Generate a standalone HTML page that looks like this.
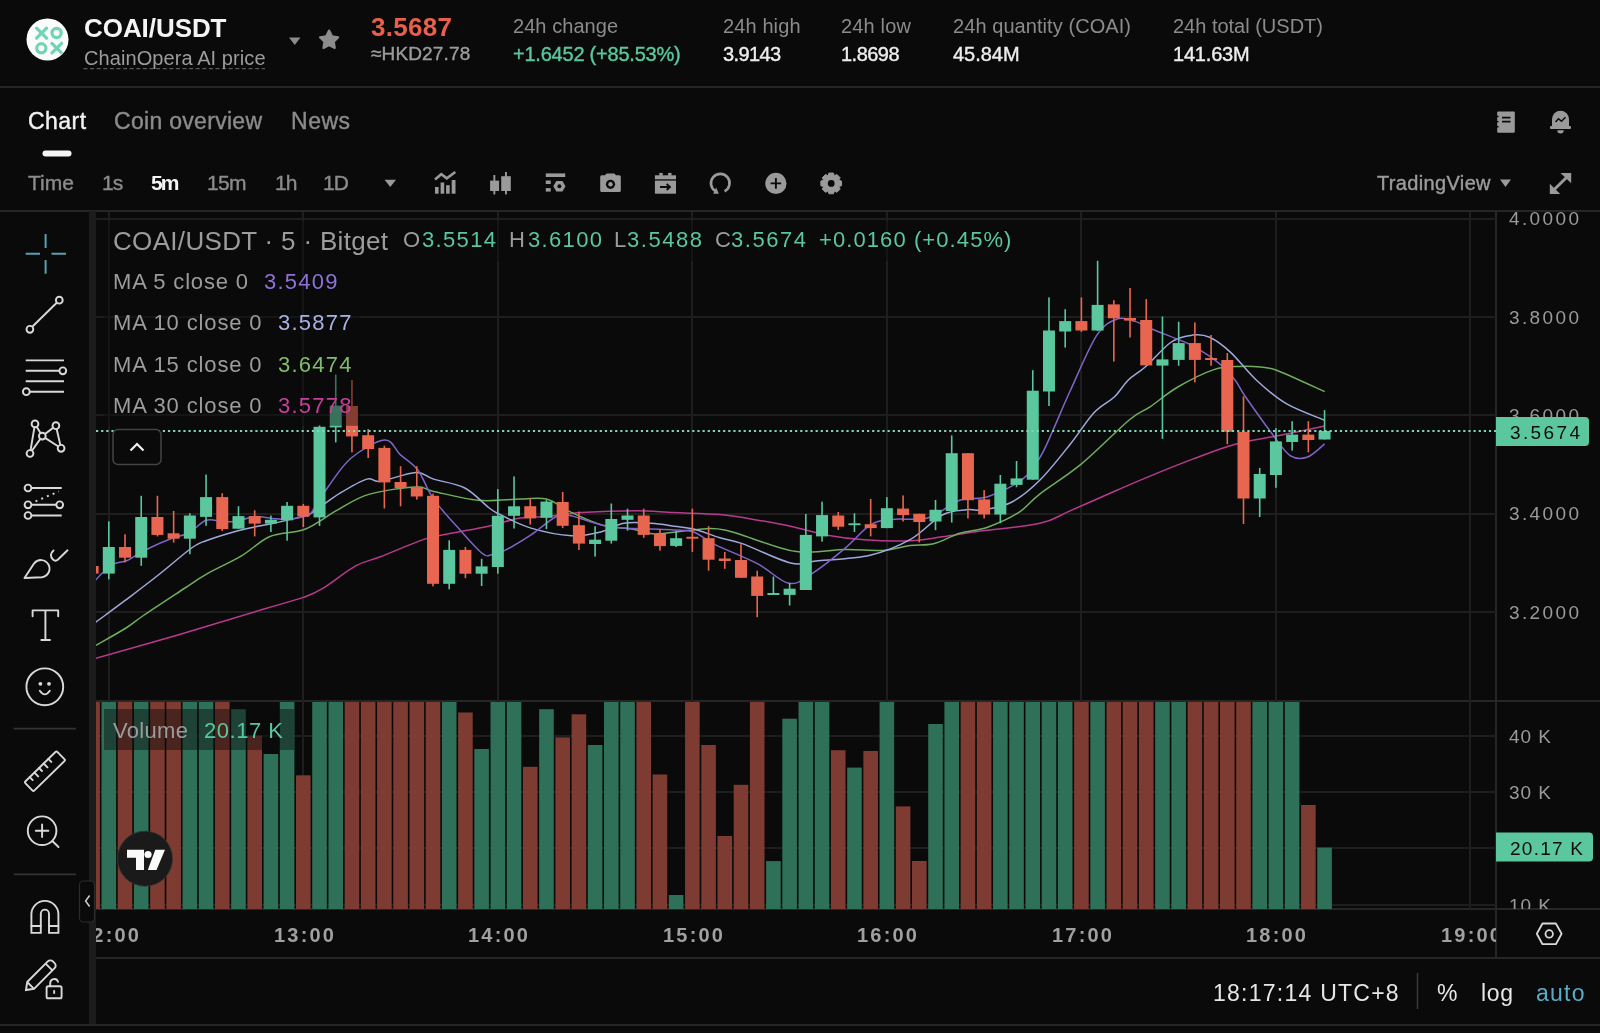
<!DOCTYPE html><html><head><meta charset="utf-8"><style>
html,body{margin:0;padding:0;background:#0a0a0a;width:1600px;height:1033px;overflow:hidden}
body{position:relative;font-family:"Liberation Sans",sans-serif}
.s{position:absolute;left:0;top:0}
.t{position:absolute;white-space:pre;will-change:transform}
</style></head><body>
<svg class="s" width="1600" height="1033" viewBox="0 0 1600 1033"><line x1="0" y1="87" x2="1600" y2="87" stroke="#262626" stroke-width="2"/><line x1="0" y1="211" x2="1600" y2="211" stroke="#262626" stroke-width="2"/><rect x="89.00" y="211.00" width="7.00" height="814.00" fill="#1c1c1c" /><line x1="96" y1="701" x2="1600" y2="701" stroke="#262626" stroke-width="2"/><line x1="96" y1="909" x2="1600" y2="909" stroke="#262626" stroke-width="2"/><line x1="96" y1="958" x2="1600" y2="958" stroke="#262626" stroke-width="2"/><line x1="0" y1="1025" x2="1600" y2="1025" stroke="#262626" stroke-width="2"/><line x1="1496" y1="210" x2="1496" y2="958" stroke="#262626" stroke-width="2"/><defs><clipPath id="cp"><rect x="96" y="212" width="1400" height="489"/></clipPath><clipPath id="cv"><rect x="96" y="702" width="1400" height="207"/></clipPath></defs><line x1="96" y1="219" x2="1496" y2="219" stroke="#1e1e1e" stroke-width="2"/><line x1="96" y1="317" x2="1496" y2="317" stroke="#1e1e1e" stroke-width="2"/><line x1="96" y1="415" x2="1496" y2="415" stroke="#1e1e1e" stroke-width="2"/><line x1="96" y1="514" x2="1496" y2="514" stroke="#1e1e1e" stroke-width="2"/><line x1="96" y1="612" x2="1496" y2="612" stroke="#1e1e1e" stroke-width="2"/><line x1="96" y1="736" x2="1496" y2="736" stroke="#1e1e1e" stroke-width="2"/><line x1="96" y1="792" x2="1496" y2="792" stroke="#1e1e1e" stroke-width="2"/><line x1="96" y1="848" x2="1496" y2="848" stroke="#1e1e1e" stroke-width="2"/><line x1="96" y1="905" x2="1496" y2="905" stroke="#1e1e1e" stroke-width="2"/><line x1="109" y1="212" x2="109" y2="909" stroke="#1e1e1e" stroke-width="2"/><line x1="303" y1="212" x2="303" y2="909" stroke="#1e1e1e" stroke-width="2"/><line x1="498" y1="212" x2="498" y2="909" stroke="#1e1e1e" stroke-width="2"/><line x1="692" y1="212" x2="692" y2="909" stroke="#1e1e1e" stroke-width="2"/><line x1="887" y1="212" x2="887" y2="909" stroke="#1e1e1e" stroke-width="2"/><line x1="1081" y1="212" x2="1081" y2="909" stroke="#1e1e1e" stroke-width="2"/><line x1="1276" y1="212" x2="1276" y2="909" stroke="#1e1e1e" stroke-width="2"/><line x1="1470" y1="212" x2="1470" y2="909" stroke="#1e1e1e" stroke-width="2"/><g clip-path="url(#cv)"><rect x="85.29" y="700.00" width="14.60" height="209.00" fill="#7e3b31" /><rect x="101.50" y="700.00" width="14.60" height="209.00" fill="#2f7059" /><rect x="117.71" y="700.00" width="14.60" height="209.00" fill="#7e3b31" /><rect x="133.92" y="700.00" width="14.60" height="209.00" fill="#2f7059" /><rect x="150.13" y="700.00" width="14.60" height="209.00" fill="#7e3b31" /><rect x="166.34" y="700.00" width="14.60" height="209.00" fill="#7e3b31" /><rect x="182.55" y="700.00" width="14.60" height="209.00" fill="#2f7059" /><rect x="198.76" y="700.00" width="14.60" height="209.00" fill="#2f7059" /><rect x="214.97" y="700.00" width="14.60" height="209.00" fill="#7e3b31" /><rect x="231.18" y="709.20" width="14.60" height="199.80" fill="#2f7059" /><rect x="247.39" y="735.60" width="14.60" height="173.40" fill="#7e3b31" /><rect x="263.60" y="754.00" width="14.60" height="155.00" fill="#2f7059" /><rect x="279.81" y="700.00" width="14.60" height="209.00" fill="#2f7059" /><rect x="296.02" y="775.30" width="14.60" height="133.70" fill="#7e3b31" /><rect x="312.23" y="700.00" width="14.60" height="209.00" fill="#2f7059" /><rect x="328.44" y="700.00" width="14.60" height="209.00" fill="#2f7059" /><rect x="344.65" y="700.00" width="14.60" height="209.00" fill="#7e3b31" /><rect x="360.86" y="700.00" width="14.60" height="209.00" fill="#7e3b31" /><rect x="377.07" y="700.00" width="14.60" height="209.00" fill="#7e3b31" /><rect x="393.28" y="700.00" width="14.60" height="209.00" fill="#7e3b31" /><rect x="409.49" y="700.00" width="14.60" height="209.00" fill="#7e3b31" /><rect x="425.70" y="700.00" width="14.60" height="209.00" fill="#7e3b31" /><rect x="441.91" y="700.00" width="14.60" height="209.00" fill="#2f7059" /><rect x="458.12" y="712.50" width="14.60" height="196.50" fill="#7e3b31" /><rect x="474.33" y="749.00" width="14.60" height="160.00" fill="#2f7059" /><rect x="490.54" y="700.00" width="14.60" height="209.00" fill="#2f7059" /><rect x="506.75" y="700.00" width="14.60" height="209.00" fill="#2f7059" /><rect x="522.96" y="766.80" width="14.60" height="142.20" fill="#7e3b31" /><rect x="539.17" y="709.20" width="14.60" height="199.80" fill="#2f7059" /><rect x="555.38" y="737.40" width="14.60" height="171.60" fill="#7e3b31" /><rect x="571.59" y="714.30" width="14.60" height="194.70" fill="#7e3b31" /><rect x="587.80" y="745.00" width="14.60" height="164.00" fill="#2f7059" /><rect x="604.01" y="700.00" width="14.60" height="209.00" fill="#2f7059" /><rect x="620.22" y="700.00" width="14.60" height="209.00" fill="#2f7059" /><rect x="636.43" y="700.00" width="14.60" height="209.00" fill="#7e3b31" /><rect x="652.64" y="774.50" width="14.60" height="134.50" fill="#7e3b31" /><rect x="668.85" y="895.00" width="14.60" height="14.00" fill="#2f7059" /><rect x="685.06" y="700.00" width="14.60" height="209.00" fill="#7e3b31" /><rect x="701.27" y="745.00" width="14.60" height="164.00" fill="#7e3b31" /><rect x="717.48" y="836.00" width="14.60" height="73.00" fill="#7e3b31" /><rect x="733.69" y="784.80" width="14.60" height="124.20" fill="#7e3b31" /><rect x="749.90" y="700.00" width="14.60" height="209.00" fill="#7e3b31" /><rect x="766.11" y="861.10" width="14.60" height="47.90" fill="#2f7059" /><rect x="782.32" y="718.70" width="14.60" height="190.30" fill="#2f7059" /><rect x="798.53" y="700.00" width="14.60" height="209.00" fill="#2f7059" /><rect x="814.74" y="700.00" width="14.60" height="209.00" fill="#2f7059" /><rect x="830.95" y="750.20" width="14.60" height="158.80" fill="#7e3b31" /><rect x="847.16" y="767.60" width="14.60" height="141.40" fill="#2f7059" /><rect x="863.37" y="751.00" width="14.60" height="158.00" fill="#7e3b31" /><rect x="879.58" y="700.00" width="14.60" height="209.00" fill="#2f7059" /><rect x="895.79" y="806.40" width="14.60" height="102.60" fill="#7e3b31" /><rect x="912.00" y="861.00" width="14.60" height="48.00" fill="#7e3b31" /><rect x="928.21" y="724.00" width="14.60" height="185.00" fill="#2f7059" /><rect x="944.42" y="700.00" width="14.60" height="209.00" fill="#2f7059" /><rect x="960.63" y="700.00" width="14.60" height="209.00" fill="#7e3b31" /><rect x="976.84" y="700.00" width="14.60" height="209.00" fill="#7e3b31" /><rect x="993.05" y="700.00" width="14.60" height="209.00" fill="#2f7059" /><rect x="1009.26" y="700.00" width="14.60" height="209.00" fill="#2f7059" /><rect x="1025.47" y="700.00" width="14.60" height="209.00" fill="#2f7059" /><rect x="1041.68" y="700.00" width="14.60" height="209.00" fill="#2f7059" /><rect x="1057.89" y="700.00" width="14.60" height="209.00" fill="#2f7059" /><rect x="1074.10" y="700.00" width="14.60" height="209.00" fill="#7e3b31" /><rect x="1090.31" y="700.00" width="14.60" height="209.00" fill="#2f7059" /><rect x="1106.52" y="700.00" width="14.60" height="209.00" fill="#7e3b31" /><rect x="1122.73" y="700.00" width="14.60" height="209.00" fill="#7e3b31" /><rect x="1138.94" y="700.00" width="14.60" height="209.00" fill="#7e3b31" /><rect x="1155.15" y="700.00" width="14.60" height="209.00" fill="#2f7059" /><rect x="1171.36" y="700.00" width="14.60" height="209.00" fill="#2f7059" /><rect x="1187.57" y="700.00" width="14.60" height="209.00" fill="#7e3b31" /><rect x="1203.78" y="700.00" width="14.60" height="209.00" fill="#7e3b31" /><rect x="1219.99" y="700.00" width="14.60" height="209.00" fill="#7e3b31" /><rect x="1236.20" y="700.00" width="14.60" height="209.00" fill="#7e3b31" /><rect x="1252.41" y="700.00" width="14.60" height="209.00" fill="#2f7059" /><rect x="1268.62" y="700.00" width="14.60" height="209.00" fill="#2f7059" /><rect x="1284.83" y="700.00" width="14.60" height="209.00" fill="#2f7059" /><rect x="1301.04" y="805.00" width="14.60" height="104.00" fill="#7e3b31" /><rect x="1317.25" y="847.60" width="14.60" height="61.40" fill="#2f7059" /></g><g clip-path="url(#cp)"><path d="M95.8 658.4 C109.3 654.5 149.0 643.4 177.0 635.2 C205.0 627.0 242.9 615.3 264.0 609.0 C285.1 602.7 293.7 600.8 303.4 597.4 C313.1 594.0 313.6 594.0 322.3 588.7 C331.0 583.5 346.0 571.2 355.7 565.9 C365.4 560.6 368.9 561.2 380.3 556.8 C391.7 552.4 412.3 543.3 423.9 539.4 C435.5 535.5 439.1 535.9 450.0 533.6 C460.9 531.4 477.6 528.5 489.3 525.9 C501.0 523.3 510.5 519.7 520.0 518.1 C529.5 516.5 536.3 517.4 546.5 516.5 C556.7 515.6 566.4 513.6 581.3 512.6 C596.1 511.6 620.1 510.7 635.6 510.7 C651.1 510.7 660.2 512.0 674.3 512.6 C688.4 513.2 707.7 513.5 720.0 514.5 C732.3 515.5 736.3 516.4 748.1 518.4 C759.9 520.4 777.8 523.5 790.7 526.2 C803.6 529.0 813.3 532.6 825.6 534.9 C837.9 537.1 850.2 538.7 864.3 539.7 C878.4 540.7 897.0 541.2 910.0 540.7 C923.0 540.2 931.1 538.3 942.3 536.8 C953.5 535.3 960.8 533.9 977.1 531.6 C993.4 529.4 1024.5 526.8 1040.0 523.3 C1055.5 519.8 1057.1 516.4 1070.0 510.9 C1082.9 505.3 1104.1 495.8 1117.4 490.0 C1130.7 484.2 1137.5 481.2 1150.0 476.1 C1162.5 471.0 1178.4 464.4 1192.6 459.1 C1206.8 453.8 1221.0 448.1 1235.2 444.2 C1249.4 440.3 1262.9 438.7 1277.8 435.7 C1292.7 432.7 1316.9 427.7 1324.7 426.1" fill="none" stroke="#b93a8f" stroke-width="1.5" stroke-linejoin="round"/><path d="M95.8 645.4 C100.8 642.5 117.9 633.1 126.0 628.0 C134.1 622.9 134.4 621.7 144.2 615.0 C154.0 608.3 174.7 594.8 185.0 588.0 C195.3 581.2 196.8 579.6 206.1 574.3 C215.4 569.0 230.3 562.5 241.0 556.2 C251.7 549.9 259.4 541.0 270.0 536.5 C280.6 532.0 293.8 533.6 304.9 529.2 C316.0 524.9 326.2 516.2 336.8 510.4 C347.4 504.6 355.5 498.3 368.7 494.4 C381.9 490.5 405.0 487.4 415.8 486.9 C426.6 486.4 423.2 489.2 433.6 491.4 C444.0 493.6 463.7 499.0 478.1 500.3 C492.5 501.6 508.6 499.3 520.0 499.1 C531.4 498.9 538.2 497.0 546.5 499.1 C554.8 501.2 560.4 507.2 569.7 511.6 C579.1 516.0 592.3 522.3 602.6 525.2 C612.9 528.1 623.0 527.7 631.7 529.1 C640.4 530.5 644.6 533.8 654.9 533.9 C665.2 534.0 681.9 530.6 693.6 530.0 C705.3 529.4 708.1 526.5 724.9 530.0 C741.7 533.5 774.6 548.1 794.6 551.3 C814.6 554.5 830.1 549.5 844.9 549.4 C859.7 549.2 872.8 551.0 883.6 550.4 C894.5 549.8 901.7 546.6 910.0 545.5 C918.3 544.4 925.3 545.8 933.6 543.8 C941.9 541.8 950.7 536.1 959.7 533.3 C968.7 530.5 977.7 530.7 987.6 527.2 C997.5 523.7 1010.2 518.0 1018.9 512.4 C1027.6 506.8 1029.5 501.9 1040.0 493.8 C1050.5 485.7 1066.8 476.0 1081.8 463.6 C1096.8 451.2 1118.4 428.9 1129.8 419.5 C1141.2 410.1 1142.0 412.3 1150.0 406.9 C1158.0 401.5 1167.1 393.2 1177.8 387.0 C1188.5 380.8 1203.6 373.0 1213.9 369.6 C1224.2 366.2 1231.7 366.8 1239.5 366.4 C1247.3 366.0 1254.4 366.4 1260.8 367.1 C1267.2 367.8 1267.1 366.6 1277.8 370.7 C1288.5 374.8 1316.9 388.1 1324.7 391.6" fill="none" stroke="#6fae5e" stroke-width="1.5" stroke-linejoin="round"/><path d="M95.8 622.2 C100.6 618.6 114.5 608.5 124.8 600.7 C135.1 592.9 146.6 584.3 157.7 575.5 C168.8 566.7 183.5 553.8 191.6 548.0 C199.7 542.2 198.5 543.5 206.1 540.7 C213.7 537.9 228.9 533.3 237.0 531.0 C245.1 528.7 248.3 528.4 254.5 527.1 C260.6 525.8 265.8 525.0 273.9 523.2 C282.0 521.4 296.4 518.3 302.9 516.4 C309.4 514.5 306.8 515.9 313.0 512.0 C319.2 508.1 331.0 498.7 340.0 493.2 C349.0 487.7 360.1 481.1 366.8 479.1 C373.5 477.1 372.1 482.4 380.3 481.3 C388.5 480.2 406.9 472.8 415.8 472.4 C424.7 472.0 425.4 476.5 433.6 479.1 C441.8 481.7 455.5 483.2 464.8 488.0 C474.1 492.8 483.4 503.6 489.3 508.0 C495.2 512.4 493.1 511.1 500.0 514.5 C506.9 517.9 519.1 524.6 531.0 528.1 C542.9 531.6 560.0 535.1 571.6 535.8 C583.2 536.4 592.0 534.1 600.7 532.0 C609.4 529.9 615.5 524.8 623.9 523.3 C632.3 521.8 642.6 522.8 651.0 523.3 C659.4 523.8 667.2 525.2 674.3 526.2 C681.4 527.2 686.0 527.2 693.6 529.1 C701.2 531.0 711.9 535.4 720.0 537.8 C728.1 540.2 730.5 539.4 742.3 543.6 C754.1 547.8 778.4 560.1 790.7 563.0 C803.0 565.9 802.7 562.3 815.9 561.0 C829.1 559.7 854.4 558.8 870.1 555.2 C885.8 551.7 898.0 546.4 910.0 539.7 C922.0 533.0 932.8 520.0 942.3 515.0 C951.8 510.0 959.7 510.7 966.7 509.8 C973.7 508.9 976.6 511.1 984.1 509.8 C991.6 508.5 1002.7 507.0 1012.0 502.0 C1021.3 497.0 1030.3 489.6 1040.0 480.0 C1049.7 470.4 1061.0 455.8 1070.0 444.5 C1079.0 433.2 1086.8 420.4 1094.2 412.5 C1101.6 404.6 1108.6 402.4 1114.3 397.0 C1120.0 391.6 1123.1 385.1 1128.3 380.0 C1133.5 374.9 1138.3 373.0 1145.5 366.7 C1152.7 360.4 1163.5 347.3 1171.3 342.0 C1179.1 336.7 1186.2 335.9 1192.6 335.1 C1199.0 334.3 1203.2 334.4 1209.6 337.3 C1216.0 340.2 1223.1 345.4 1230.9 352.6 C1238.7 359.8 1247.3 371.8 1256.5 380.3 C1265.7 388.8 1274.9 397.0 1286.3 403.7 C1297.7 410.4 1318.3 417.5 1324.7 420.3" fill="none" stroke="#a0a9dc" stroke-width="1.5" stroke-linejoin="round"/><path d="M95.8 580.0 C96.9 578.8 99.3 575.7 102.4 573.0 C105.5 570.3 110.7 565.6 114.6 563.6 C118.5 561.6 122.5 562.3 126.0 561.0 C129.5 559.7 131.6 557.9 135.5 555.7 C139.4 553.5 143.4 550.9 149.5 548.0 C155.6 545.1 165.5 540.8 172.0 538.3 C178.5 535.8 183.0 536.0 188.7 533.0 C194.4 530.0 200.6 522.2 206.1 520.3 C211.6 518.3 216.4 521.1 221.6 521.3 C226.8 521.5 231.5 522.1 237.0 521.3 C242.5 520.5 248.7 517.0 254.5 516.5 C260.3 516.0 266.5 517.9 272.0 518.4 C277.5 518.9 281.9 519.8 287.4 519.4 C292.9 519.0 301.0 517.2 304.9 516.2 C308.8 515.2 306.8 518.5 310.6 513.6 C314.5 508.7 321.2 496.3 328.0 487.0 C334.8 477.7 341.8 465.8 351.2 458.0 C360.6 450.2 376.4 440.7 384.6 440.1 C392.8 439.5 394.6 449.6 400.2 454.6 C405.8 459.6 412.4 462.8 418.0 470.2 C423.6 477.6 426.6 489.1 433.6 499.1 C440.7 509.1 452.1 521.2 460.3 530.3 C468.5 539.4 477.4 549.6 482.6 553.7 C487.8 557.8 487.8 555.3 491.5 554.8 C495.2 554.2 498.3 553.7 504.9 550.4 C511.5 547.1 522.5 540.5 531.0 534.9 C539.5 529.2 549.8 519.7 556.2 516.5 C562.7 513.3 562.0 514.0 569.7 515.5 C577.4 517.0 593.6 523.1 602.6 525.2 C611.6 527.3 615.8 527.5 623.9 528.1 C632.0 528.8 642.6 528.8 651.0 529.1 C659.4 529.4 667.2 529.5 674.3 530.0 C681.4 530.5 686.8 529.6 693.6 532.0 C700.4 534.4 704.5 539.3 715.2 544.6 C725.9 549.9 745.5 557.5 757.8 563.9 C770.1 570.3 779.8 581.7 788.8 583.3 C797.8 584.9 802.6 579.4 812.0 573.6 C821.4 567.8 835.2 556.5 844.9 548.4 C854.6 540.3 862.4 530.0 870.1 525.2 C877.9 520.4 881.7 520.6 891.4 519.4 C901.1 518.1 916.9 520.9 928.3 517.7 C939.7 514.5 949.8 503.7 959.7 500.2 C969.6 496.7 977.2 500.2 987.6 496.7 C998.0 493.2 1013.7 485.8 1022.4 479.3 C1031.1 472.8 1034.8 465.7 1039.9 457.5 C1045.0 449.3 1048.1 441.0 1053.1 430.0 C1058.1 419.0 1062.7 407.1 1070.0 391.3 C1077.3 375.5 1088.8 347.5 1096.7 335.4 C1104.6 323.3 1111.2 321.1 1117.6 318.8 C1124.0 316.5 1129.2 319.6 1135.0 321.4 C1140.8 323.1 1145.4 326.4 1152.4 329.3 C1159.4 332.2 1169.8 336.0 1176.8 338.9 C1183.8 341.8 1187.0 342.5 1194.2 346.7 C1201.5 350.9 1213.5 358.7 1220.3 364.3 C1227.1 369.9 1231.0 374.8 1235.2 380.3 C1239.5 385.8 1239.4 388.1 1245.8 397.3 C1252.2 406.5 1266.0 425.9 1273.5 435.7 C1281.0 445.5 1284.9 452.3 1290.6 455.9 C1296.3 459.4 1301.9 459.0 1307.6 457.0 C1313.3 455.0 1321.8 446.0 1324.7 443.8" fill="none" stroke="#8064c8" stroke-width="1.5" stroke-linejoin="round"/><rect x="91.79" y="562.00" width="1.60" height="16.00" fill="#e8664f" /><rect x="86.59" y="566.00" width="12.00" height="7.60" fill="#e8664f" /><rect x="108.00" y="521.30" width="1.60" height="58.10" fill="#5ac79e" /><rect x="102.80" y="547.00" width="12.00" height="26.60" fill="#5ac79e" /><rect x="124.21" y="534.30" width="1.60" height="28.10" fill="#e8664f" /><rect x="119.01" y="547.00" width="12.00" height="10.70" fill="#e8664f" /><rect x="140.42" y="495.80" width="1.60" height="70.00" fill="#5ac79e" /><rect x="135.22" y="517.00" width="12.00" height="40.70" fill="#5ac79e" /><rect x="156.63" y="495.80" width="1.60" height="40.60" fill="#e8664f" /><rect x="151.43" y="517.00" width="12.00" height="17.90" fill="#e8664f" /><rect x="172.84" y="511.00" width="1.60" height="31.60" fill="#e8664f" /><rect x="167.64" y="533.30" width="12.00" height="5.40" fill="#e8664f" /><rect x="189.05" y="513.20" width="1.60" height="41.00" fill="#5ac79e" /><rect x="183.85" y="515.50" width="12.00" height="23.20" fill="#5ac79e" /><rect x="205.26" y="474.50" width="1.60" height="51.30" fill="#5ac79e" /><rect x="200.06" y="497.10" width="12.00" height="19.80" fill="#5ac79e" /><rect x="221.47" y="493.20" width="1.60" height="37.80" fill="#e8664f" /><rect x="216.27" y="497.10" width="12.00" height="32.00" fill="#e8664f" /><rect x="237.68" y="506.20" width="1.60" height="22.50" fill="#5ac79e" /><rect x="232.48" y="516.10" width="12.00" height="12.60" fill="#5ac79e" /><rect x="253.89" y="510.30" width="1.60" height="26.10" fill="#e8664f" /><rect x="248.69" y="516.10" width="12.00" height="7.50" fill="#e8664f" /><rect x="270.10" y="515.50" width="1.60" height="16.50" fill="#5ac79e" /><rect x="264.90" y="519.80" width="12.00" height="3.80" fill="#5ac79e" /><rect x="286.31" y="502.00" width="1.60" height="38.70" fill="#5ac79e" /><rect x="281.11" y="505.80" width="12.00" height="14.50" fill="#5ac79e" /><rect x="302.52" y="503.90" width="1.60" height="23.20" fill="#e8664f" /><rect x="297.32" y="505.80" width="12.00" height="10.70" fill="#e8664f" /><rect x="318.73" y="425.20" width="1.60" height="100.70" fill="#5ac79e" /><rect x="313.53" y="426.80" width="12.00" height="90.60" fill="#5ac79e" /><rect x="334.94" y="374.50" width="1.60" height="67.90" fill="#5ac79e" /><rect x="329.74" y="405.60" width="12.00" height="21.80" fill="#5ac79e" /><rect x="351.15" y="380.00" width="1.60" height="72.40" fill="#e8664f" /><rect x="345.95" y="406.00" width="12.00" height="30.40" fill="#e8664f" /><rect x="367.36" y="429.00" width="1.60" height="29.00" fill="#e8664f" /><rect x="362.16" y="435.20" width="12.00" height="13.80" fill="#e8664f" /><rect x="383.57" y="445.70" width="1.60" height="62.80" fill="#e8664f" /><rect x="378.37" y="447.90" width="12.00" height="34.50" fill="#e8664f" /><rect x="399.78" y="466.20" width="1.60" height="40.10" fill="#e8664f" /><rect x="394.58" y="482.00" width="12.00" height="6.00" fill="#e8664f" /><rect x="415.99" y="466.20" width="1.60" height="33.40" fill="#e8664f" /><rect x="410.79" y="487.30" width="12.00" height="9.20" fill="#e8664f" /><rect x="432.20" y="493.60" width="1.60" height="92.80" fill="#e8664f" /><rect x="427.00" y="495.80" width="12.00" height="88.00" fill="#e8664f" /><rect x="448.41" y="540.30" width="1.60" height="49.00" fill="#5ac79e" /><rect x="443.21" y="549.90" width="12.00" height="33.90" fill="#5ac79e" /><rect x="464.62" y="547.00" width="1.60" height="31.20" fill="#e8664f" /><rect x="459.42" y="549.90" width="12.00" height="23.80" fill="#e8664f" /><rect x="480.83" y="558.80" width="1.60" height="27.20" fill="#5ac79e" /><rect x="475.63" y="566.40" width="12.00" height="7.30" fill="#5ac79e" /><rect x="497.04" y="489.10" width="1.60" height="84.60" fill="#5ac79e" /><rect x="491.84" y="515.80" width="12.00" height="51.20" fill="#5ac79e" /><rect x="513.25" y="476.40" width="1.60" height="52.10" fill="#5ac79e" /><rect x="508.05" y="506.30" width="12.00" height="9.50" fill="#5ac79e" /><rect x="529.46" y="498.00" width="1.60" height="26.60" fill="#e8664f" /><rect x="524.26" y="506.20" width="12.00" height="12.20" fill="#e8664f" /><rect x="545.67" y="500.00" width="1.60" height="29.10" fill="#5ac79e" /><rect x="540.47" y="501.60" width="12.00" height="16.20" fill="#5ac79e" /><rect x="561.88" y="491.90" width="1.60" height="36.20" fill="#e8664f" /><rect x="556.68" y="502.00" width="12.00" height="23.80" fill="#e8664f" /><rect x="578.09" y="511.60" width="1.60" height="38.40" fill="#e8664f" /><rect x="572.89" y="525.20" width="12.00" height="18.40" fill="#e8664f" /><rect x="594.30" y="526.20" width="1.60" height="30.40" fill="#5ac79e" /><rect x="589.10" y="539.70" width="12.00" height="4.30" fill="#5ac79e" /><rect x="610.51" y="503.50" width="1.60" height="40.10" fill="#5ac79e" /><rect x="605.31" y="519.00" width="12.00" height="21.70" fill="#5ac79e" /><rect x="626.72" y="508.70" width="1.60" height="21.90" fill="#5ac79e" /><rect x="621.52" y="515.50" width="12.00" height="4.30" fill="#5ac79e" /><rect x="642.93" y="508.70" width="1.60" height="29.10" fill="#e8664f" /><rect x="637.73" y="515.50" width="12.00" height="19.40" fill="#e8664f" /><rect x="659.14" y="529.10" width="1.60" height="21.60" fill="#e8664f" /><rect x="653.94" y="533.90" width="12.00" height="12.20" fill="#e8664f" /><rect x="675.35" y="531.00" width="1.60" height="16.00" fill="#5ac79e" /><rect x="670.15" y="538.20" width="12.00" height="7.70" fill="#5ac79e" /><rect x="691.56" y="508.70" width="1.60" height="43.20" fill="#e8664f" /><rect x="686.36" y="536.80" width="12.00" height="1.90" fill="#e8664f" /><rect x="707.77" y="526.20" width="1.60" height="44.50" fill="#e8664f" /><rect x="702.57" y="538.20" width="12.00" height="21.50" fill="#e8664f" /><rect x="723.98" y="551.90" width="1.60" height="16.90" fill="#e8664f" /><rect x="718.78" y="558.50" width="12.00" height="2.50" fill="#e8664f" /><rect x="740.19" y="544.20" width="1.60" height="33.60" fill="#e8664f" /><rect x="734.99" y="560.00" width="12.00" height="17.80" fill="#e8664f" /><rect x="756.40" y="570.70" width="1.60" height="46.50" fill="#e8664f" /><rect x="751.20" y="576.50" width="12.00" height="19.40" fill="#e8664f" /><rect x="772.61" y="576.50" width="1.60" height="18.50" fill="#5ac79e" /><rect x="767.41" y="593.00" width="12.00" height="2.00" fill="#5ac79e" /><rect x="788.82" y="582.90" width="1.60" height="22.60" fill="#5ac79e" /><rect x="783.62" y="588.70" width="12.00" height="6.20" fill="#5ac79e" /><rect x="805.03" y="514.00" width="1.60" height="76.00" fill="#5ac79e" /><rect x="799.83" y="534.90" width="12.00" height="55.10" fill="#5ac79e" /><rect x="821.24" y="501.60" width="1.60" height="40.00" fill="#5ac79e" /><rect x="816.04" y="515.10" width="12.00" height="21.30" fill="#5ac79e" /><rect x="837.45" y="512.00" width="1.60" height="18.00" fill="#e8664f" /><rect x="832.25" y="515.50" width="12.00" height="11.20" fill="#e8664f" /><rect x="853.66" y="513.20" width="1.60" height="18.80" fill="#5ac79e" /><rect x="848.46" y="523.30" width="12.00" height="1.90" fill="#5ac79e" /><rect x="869.87" y="499.00" width="1.60" height="37.40" fill="#e8664f" /><rect x="864.67" y="524.20" width="12.00" height="3.90" fill="#e8664f" /><rect x="886.08" y="497.10" width="1.60" height="31.00" fill="#5ac79e" /><rect x="880.88" y="508.20" width="12.00" height="19.90" fill="#5ac79e" /><rect x="902.29" y="495.40" width="1.60" height="26.10" fill="#e8664f" /><rect x="897.09" y="508.60" width="12.00" height="6.40" fill="#e8664f" /><rect x="918.50" y="513.80" width="1.60" height="28.60" fill="#e8664f" /><rect x="913.30" y="513.80" width="12.00" height="8.20" fill="#e8664f" /><rect x="934.71" y="499.90" width="1.60" height="30.30" fill="#5ac79e" /><rect x="929.51" y="509.80" width="12.00" height="11.70" fill="#5ac79e" /><rect x="950.92" y="435.40" width="1.60" height="87.10" fill="#5ac79e" /><rect x="945.72" y="453.20" width="12.00" height="57.80" fill="#5ac79e" /><rect x="967.13" y="453.20" width="1.60" height="65.30" fill="#e8664f" /><rect x="961.93" y="453.20" width="12.00" height="47.00" fill="#e8664f" /><rect x="983.34" y="490.10" width="1.60" height="28.40" fill="#e8664f" /><rect x="978.14" y="499.40" width="12.00" height="15.10" fill="#e8664f" /><rect x="999.55" y="475.00" width="1.60" height="48.20" fill="#5ac79e" /><rect x="994.35" y="483.70" width="12.00" height="30.80" fill="#5ac79e" /><rect x="1015.76" y="461.00" width="1.60" height="26.20" fill="#5ac79e" /><rect x="1010.56" y="478.40" width="12.00" height="6.50" fill="#5ac79e" /><rect x="1031.97" y="370.20" width="1.60" height="109.50" fill="#5ac79e" /><rect x="1026.77" y="390.70" width="12.00" height="89.00" fill="#5ac79e" /><rect x="1048.18" y="297.40" width="1.60" height="108.60" fill="#5ac79e" /><rect x="1042.98" y="330.50" width="12.00" height="61.00" fill="#5ac79e" /><rect x="1064.39" y="309.20" width="1.60" height="38.40" fill="#5ac79e" /><rect x="1059.19" y="321.10" width="12.00" height="10.40" fill="#5ac79e" /><rect x="1080.60" y="297.40" width="1.60" height="34.50" fill="#e8664f" /><rect x="1075.40" y="321.10" width="12.00" height="9.40" fill="#e8664f" /><rect x="1096.81" y="260.80" width="1.60" height="70.20" fill="#5ac79e" /><rect x="1091.61" y="304.90" width="12.00" height="25.60" fill="#5ac79e" /><rect x="1113.02" y="300.20" width="1.60" height="61.30" fill="#e8664f" /><rect x="1107.82" y="304.40" width="12.00" height="13.90" fill="#e8664f" /><rect x="1129.23" y="288.00" width="1.60" height="49.50" fill="#e8664f" /><rect x="1124.03" y="318.00" width="12.00" height="2.60" fill="#e8664f" /><rect x="1145.44" y="299.10" width="1.60" height="66.30" fill="#e8664f" /><rect x="1140.24" y="320.00" width="12.00" height="45.40" fill="#e8664f" /><rect x="1161.65" y="316.50" width="1.60" height="122.40" fill="#5ac79e" /><rect x="1156.45" y="359.40" width="12.00" height="6.20" fill="#5ac79e" /><rect x="1177.86" y="321.70" width="1.60" height="44.10" fill="#5ac79e" /><rect x="1172.66" y="343.10" width="12.00" height="16.80" fill="#5ac79e" /><rect x="1194.07" y="322.40" width="1.60" height="60.00" fill="#e8664f" /><rect x="1188.87" y="343.10" width="12.00" height="16.80" fill="#e8664f" /><rect x="1210.28" y="335.00" width="1.60" height="30.80" fill="#e8664f" /><rect x="1205.08" y="358.00" width="12.00" height="2.00" fill="#e8664f" /><rect x="1226.49" y="353.00" width="1.60" height="91.20" fill="#e8664f" /><rect x="1221.29" y="360.00" width="12.00" height="71.80" fill="#e8664f" /><rect x="1242.70" y="396.30" width="1.60" height="127.70" fill="#e8664f" /><rect x="1237.50" y="431.80" width="12.00" height="66.70" fill="#e8664f" /><rect x="1258.91" y="468.00" width="1.60" height="49.00" fill="#5ac79e" /><rect x="1253.71" y="474.00" width="12.00" height="24.50" fill="#5ac79e" /><rect x="1275.12" y="428.20" width="1.60" height="59.60" fill="#5ac79e" /><rect x="1269.92" y="441.40" width="12.00" height="33.60" fill="#5ac79e" /><rect x="1291.33" y="421.20" width="1.60" height="29.40" fill="#5ac79e" /><rect x="1286.13" y="434.60" width="12.00" height="7.40" fill="#5ac79e" /><rect x="1307.54" y="421.20" width="1.60" height="31.10" fill="#e8664f" /><rect x="1302.34" y="434.60" width="12.00" height="5.40" fill="#e8664f" /><rect x="1323.75" y="410.10" width="1.60" height="29.40" fill="#5ac79e" /><rect x="1318.55" y="431.00" width="12.00" height="8.50" fill="#5ac79e" /><line x1="96" y1="431" x2="1496" y2="431" stroke="#7fd6b5" stroke-width="2.1" stroke-dasharray="2.2 2.94"/></g><g fill="rgba(11,11,11,0.45)"><rect x="104" y="221" width="916" height="40"/><rect x="104" y="261.0" width="256" height="41.2"/><rect x="104" y="302.2" width="256" height="41.2"/><rect x="104" y="343.4" width="256" height="41.2"/><rect x="104" y="384.6" width="256" height="41.2"/><rect x="104" y="709" width="190" height="41"/></g><path d="M1496 832.6 H1589 a4 4 0 0 1 4 4 V857.4 a4 4 0 0 1 -4 4 H1496 Z" fill="#5ac79e"/><rect x="113" y="429.5" width="48" height="35" rx="5" fill="#0a0a0a" stroke="#444" stroke-width="1.5"/><polyline points="130.5,450.5 137,444 143.5,450.5" fill="none" stroke="#f0f0f0" stroke-width="2.2"/><circle cx="145" cy="858.7" r="27.5" fill="#1a1a1a" stroke="#333" stroke-width="0.8"/><path d="M127 849.8 H144 V870 H136 V857.8 H127 Z" fill="#fafafa"/><circle cx="148" cy="854.5" r="3.6" fill="#fafafa"/><path d="M155.3 849.8 H165 L156.5 870 H147.8 Z" fill="#fafafa"/><line x1="1417.5" y1="973" x2="1417.5" y2="1009" stroke="#3a3a3a" stroke-width="1.5"/><circle cx="47.5" cy="39.5" r="21" fill="#fbfbfb"/><g stroke="#72d4b2" stroke-width="3.2" fill="none" stroke-linecap="round"><circle cx="56.6" cy="33" r="4.6"/><circle cx="41.3" cy="48.3" r="4.6"/><path d="M36.6 28.2 L46.6 38.2 M46.6 28.2 L36.6 38.2"/><path d="M51.9 43.4 L61.2 52.7 M61.6 43.3 L52 52.9"/></g><path d="M289 37.5 H300.5 L294.75 45 Z" fill="#8c8c8c"/><polygon points="329.10,30.60 331.98,36.24 338.23,37.23 333.76,41.71 334.74,47.97 329.10,45.10 323.46,47.97 324.44,41.71 319.97,37.23 326.22,36.24" fill="#8c8c8c" stroke="#8c8c8c" stroke-width="2.2" stroke-linejoin="round"/><line x1="83.5" y1="68.7" x2="265" y2="68.7" stroke="#5a5a5a" stroke-width="1.2" stroke-dasharray="4 2.6"/><rect x="42.5" y="150.5" width="29" height="6" rx="3" fill="#f5f5f5"/><path d="M384.5 179.8 H396 L390.25 187 Z" fill="#9a9a9a"/><g fill="#9a9a9a"><rect x="435" y="187" width="3.6" height="6.7"/><rect x="440.6" y="182.5" width="3.6" height="11.2"/><rect x="446.1" y="185.2" width="3.6" height="8.5"/><rect x="451.7" y="180" width="3.8" height="13.7"/></g><polyline points="435,179.5 441.3,174.2 446.8,178.4 455.3,172" fill="none" stroke="#9a9a9a" stroke-width="2.6"/><g fill="#9a9a9a"><rect x="493.4" y="175" width="1.9" height="19.4"/><rect x="490.1" y="180.6" width="9" height="10.4"/><rect x="505" y="172" width="1.9" height="22.4"/><rect x="501.2" y="176.2" width="9.6" height="14.8"/></g><g fill="#9a9a9a"><rect x="545.8" y="173.4" width="19.4" height="3.6"/><rect x="545.8" y="180.5" width="4.9" height="3.5"/><rect x="545.8" y="188.1" width="4.9" height="3.5"/></g><polygon points="553.3,186.3 556.35,181 562.45,181 565.5,186.3 562.45,191.6 556.35,191.6" fill="#9a9a9a"/><circle cx="559.4" cy="186.3" r="2" fill="#0a0a0a"/><path d="M600.2 176.8 a1.5 1.5 0 0 1 1.5 -1.5 H605 L606.6 173.6 H614.4 L616 175.3 H619.3 a1.5 1.5 0 0 1 1.5 1.5 V190.4 a1.5 1.5 0 0 1 -1.5 1.5 H601.7 a1.5 1.5 0 0 1 -1.5 -1.5 Z" fill="#9a9a9a"/><circle cx="610.5" cy="184.3" r="4.6" fill="#0a0a0a"/><circle cx="610.5" cy="184.3" r="2.2" fill="#9a9a9a"/><g fill="#9a9a9a"><rect x="659.3" y="172.9" width="3.4" height="3"/><rect x="668.1" y="172.9" width="3.4" height="3"/><rect x="654.9" y="175.3" width="21.1" height="4"/><rect x="654.9" y="180.6" width="21.1" height="13.1"/></g><path d="M660 187 H669.5 M666.6 184 L670 187 L666.6 190" stroke="#0a0a0a" stroke-width="1.8" fill="none"/><path d="M715.6 191.2 A9.3 9.3 0 1 1 724.6 191.4" fill="none" stroke="#9a9a9a" stroke-width="2.6"/><path d="M713.2 193.8 L718.8 193.8 L716.2 187.6 Z" fill="#9a9a9a"/><circle cx="775.9" cy="183.4" r="10.6" fill="#9a9a9a"/><path d="M770.6 183.4 H781.2 M775.9 178.1 V188.7" stroke="#0a0a0a" stroke-width="1.9"/><polygon points="841.54,181.09 841.54,185.71 838.32,186.58 838.49,186.19 840.15,189.08 836.88,192.35 833.99,190.69 834.38,190.52 833.51,193.74 828.89,193.74 828.02,190.52 828.41,190.69 825.52,192.35 822.25,189.08 823.91,186.19 824.08,186.58 820.86,185.71 820.86,181.09 824.08,180.22 823.91,180.61 822.25,177.72 825.52,174.45 828.41,176.11 828.02,176.28 828.89,173.06 833.51,173.06 834.38,176.28 833.99,176.11 836.88,174.45 840.15,177.72 838.49,180.61 838.32,180.22" fill="#9a9a9a" stroke="#9a9a9a" stroke-width="1" stroke-linejoin="round"/><circle cx="831.2" cy="183.4" r="3.4" fill="#0a0a0a"/><path d="M1500 179.6 H1511 L1505.5 187 Z" fill="#9a9a9a"/><g fill="#9a9a9a"><path d="M1560.5 173 H1571.2 V183.2 Z"/><path d="M1549.8 183.7 V194 H1560.2 Z"/></g><line x1="1553" y1="190.8" x2="1568" y2="176" stroke="#9a9a9a" stroke-width="3"/><rect x="1497.2" y="111.4" width="17.6" height="21.4" rx="1.2" fill="#9a9a9a"/><path d="M1502 117.7 H1510.5 M1502 121.6 H1510.5" stroke="#0a0a0a" stroke-width="1.8"/><path d="M1495.2 116.5 H1498.6 M1495.2 121.6 H1498.6 M1495.2 126.8 H1498.6" stroke="#0a0a0a" stroke-width="1.4"/><path d="M1552 126.5 V119.2 a8.5 8.5 0 0 1 17 0 V126.5 Z" fill="#9a9a9a"/><rect x="1550" y="126" width="21" height="3" rx="1" fill="#9a9a9a"/><path d="M1557.3 130.3 H1563.7 a3.2 3.2 0 0 1 -6.4 0 Z" fill="#9a9a9a"/><polyline points="1555.5,122 1558.5,118.7 1561.5,121.3 1565.5,117.3" fill="none" stroke="#0a0a0a" stroke-width="1.5"/><g stroke="#5c9fae" stroke-width="2"><path d="M25.7 253.8 H40 M51.5 253.8 H66 M45.6 234 V248 M45.6 260 V273.7"/></g><g stroke="#d9d9d9" stroke-width="1.9" fill="#0a0a0a"><line x1="32" y1="327" x2="57" y2="302.5"/><circle cx="29.9" cy="329.3" r="3.4"/><circle cx="59.3" cy="300.2" r="3.4"/><path d="M25.7 360.4 H64 M25.7 370.8 H59.2 M25.7 381.3 H64 M29.8 391.7 H64"/><circle cx="62.8" cy="370.8" r="3.4"/><circle cx="26.3" cy="391.7" r="3.4"/><path d="M30 453.5 L35 423.9 L42.3 436.1 L55.9 425.7 L61.1 448.3 L42.3 436.1 L30 453.5"/><circle cx="35" cy="423.9" r="3.4"/><circle cx="42.3" cy="436.1" r="3.4"/><circle cx="55.9" cy="425.7" r="3.4"/><circle cx="61.1" cy="448.3" r="3.4"/><circle cx="30" cy="453.5" r="3.4"/><path d="M31.5 488 H61.7 M31.5 504.8 H56.3 M31.5 515.5 H61.7"/><circle cx="28" cy="488" r="3.4"/><circle cx="28" cy="504.8" r="3.4"/><circle cx="59.7" cy="504.8" r="3.4"/><circle cx="28" cy="515.5" r="3.4"/></g><line x1="35.5" y1="501.3" x2="58.8" y2="491.5" stroke="#d9d9d9" stroke-width="1.9" stroke-dasharray="2 4.2"/><g stroke="#d9d9d9" stroke-width="1.9" fill="none" stroke-linejoin="round" stroke-linecap="round"><path d="M24.5 578 L34.2 563.3 A8.6 8.6 0 1 1 42 577.2 Z"/><path d="M53.5 550.5 Q48.5 555 53 559.5 Q55.5 561.8 58 559.5 L67.5 550.3"/><path d="M32.6 616.3 V610.4 H58.2 V616.3 M45.4 610.4 V640 M41.3 640 H50"/><circle cx="44.8" cy="686.8" r="18.4"/><path d="M39.8 690.8 Q44.8 698 49.8 690.8"/></g><circle cx="40.4" cy="683.8" r="1.9" fill="#d9d9d9"/><circle cx="49" cy="683.8" r="1.9" fill="#d9d9d9"/><path d="M13.7 728.6 H75.9 M13.7 874.4 H75.9" stroke="#333" stroke-width="1.6"/><g transform="translate(44.95 771.2) rotate(-44.3)" stroke="#d9d9d9" stroke-width="1.9" fill="none" stroke-linecap="round"><rect x="-22.4" y="-6.4" width="44.8" height="12.8" rx="1.5"/><path d="M-15 -6.4 V-2.2 M-8.5 -6.4 V-1 M-2 -6.4 V-2.2 M4.5 -6.4 V-1 M11 -6.4 V-2.2"/></g><g stroke="#d9d9d9" stroke-width="1.9" fill="none" stroke-linecap="round"><circle cx="42.1" cy="830.7" r="14.3"/><path d="M35.8 830.7 H48.4 M42.1 824.4 V837 M52.6 841.2 L58.5 847"/><path d="M31.4 932.9 V914.4 A13.5 13.5 0 0 1 58.4 914.4 V932.9 H49 V913.7 A4.1 4.1 0 0 0 40.8 913.7 V932.9 Z"/><path d="M31.4 926 H40.8 M49 926 H58.4"/><path d="M26 990 L27.2 982 L47.8 961.4 A3.6 3.6 0 0 1 52.9 961.4 L54.6 963.1 A3.6 3.6 0 0 1 54.6 968.2 L34 988.8 Z M27.2 982 L34 988.8 M45.6 963.6 L52.4 970.4"/><rect x="46.6" y="986.3" width="15" height="12" rx="1.6"/><path d="M50.2 986.3 V983 A4 4 0 0 1 58 981.8"/></g><rect x="53.2" y="990.2" width="1.9" height="3.6" fill="#d9d9d9"/><rect x="79.5" y="881" width="15" height="41" rx="4" fill="#0a0a0a" stroke="#2c2c2c" stroke-width="1.2"/><polyline points="89.6,895.5 85.6,901 89.6,906.5" fill="none" stroke="#cfcfcf" stroke-width="1.5"/><polygon points="1536.8,933.8 1542.5,923.5 1555.9,923.5 1561.6,933.8 1555.9,944.2 1542.5,944.2" fill="none" stroke="#d9d9d9" stroke-width="1.8" stroke-linejoin="round"/><circle cx="1549.2" cy="933.9" r="3.7" fill="none" stroke="#d9d9d9" stroke-width="1.8"/></svg>
<div class="t" style="left:83.50px;top:14.79px;font-size:26px;line-height:26px;color:#f4f4f4;font-weight:bold;letter-spacing:-0.062px;">COAI/USDT</div><div class="t" style="left:83.50px;top:47.57px;font-size:20px;line-height:20px;color:#9c9c9c;font-weight:normal;letter-spacing:0.078px;">ChainOpera AI price</div><div class="t" style="left:371.00px;top:14.49px;font-size:26px;line-height:26px;color:#ea5f4b;font-weight:bold;letter-spacing:0.300px;">3.5687</div><div class="t" style="left:371.20px;top:43.92px;font-size:19px;line-height:19px;color:#9c9c9c;font-weight:normal;letter-spacing:0.138px;-webkit-text-stroke:0.4px #9c9c9c;">≈HKD27.78</div><div class="t" style="left:513.00px;top:16.47px;font-size:20px;line-height:20px;color:#8b8b8b;font-weight:normal;letter-spacing:0.056px;">24h change</div><div class="t" style="left:513.20px;top:43.67px;font-size:20px;line-height:20px;color:#5ac79e;font-weight:normal;letter-spacing:-0.225px;-webkit-text-stroke:0.4px #5ac79e;">+1.6452 (+85.53%)</div><div class="t" style="left:722.50px;top:16.47px;font-size:20px;line-height:20px;color:#8b8b8b;font-weight:normal;letter-spacing:0.114px;">24h high</div><div class="t" style="left:722.70px;top:43.67px;font-size:20px;line-height:20px;color:#ededed;font-weight:normal;letter-spacing:-0.620px;-webkit-text-stroke:0.4px #ededed;">3.9143</div><div class="t" style="left:841.00px;top:16.47px;font-size:20px;line-height:20px;color:#8b8b8b;font-weight:normal;letter-spacing:0.167px;">24h low</div><div class="t" style="left:841.20px;top:43.67px;font-size:20px;line-height:20px;color:#ededed;font-weight:normal;letter-spacing:-0.520px;-webkit-text-stroke:0.4px #ededed;">1.8698</div><div class="t" style="left:953.00px;top:16.47px;font-size:20px;line-height:20px;color:#8b8b8b;font-weight:normal;letter-spacing:0.067px;">24h quantity (COAI)</div><div class="t" style="left:953.20px;top:43.67px;font-size:20px;line-height:20px;color:#ededed;font-weight:normal;letter-spacing:-0.020px;-webkit-text-stroke:0.4px #ededed;">45.84M</div><div class="t" style="left:1173.00px;top:16.47px;font-size:20px;line-height:20px;color:#8b8b8b;font-weight:normal;letter-spacing:-0.007px;">24h total (USDT)</div><div class="t" style="left:1173.20px;top:43.67px;font-size:20px;line-height:20px;color:#ededed;font-weight:normal;letter-spacing:-0.200px;-webkit-text-stroke:0.4px #ededed;">141.63M</div><div class="t" style="left:27.70px;top:110.33px;font-size:23px;line-height:23px;color:#f2f2f2;font-weight:normal;letter-spacing:0.475px;-webkit-text-stroke:0.4px #f2f2f2;">Chart</div><div class="t" style="left:113.70px;top:110.33px;font-size:23px;line-height:23px;color:#8b8b8b;font-weight:normal;letter-spacing:0.300px;-webkit-text-stroke:0.4px #8b8b8b;">Coin overview</div><div class="t" style="left:290.70px;top:110.33px;font-size:23px;line-height:23px;color:#8b8b8b;font-weight:normal;letter-spacing:0.533px;-webkit-text-stroke:0.4px #8b8b8b;">News</div><div class="t" style="left:27.70px;top:171.62px;font-size:21px;line-height:21px;color:#8b8b8b;font-weight:normal;letter-spacing:-0.017px;-webkit-text-stroke:0.4px #8b8b8b;">Time</div><div class="t" style="left:102.45px;top:171.62px;font-size:21px;line-height:21px;color:#8b8b8b;font-weight:normal;letter-spacing:-0.900px;-webkit-text-stroke:0.4px #8b8b8b;">1s</div><div class="t" style="left:150.60px;top:171.62px;font-size:21px;line-height:21px;color:#f4f4f4;font-weight:bold;letter-spacing:-2.000px;">5m</div><div class="t" style="left:207.25px;top:171.62px;font-size:21px;line-height:21px;color:#8b8b8b;font-weight:normal;letter-spacing:-0.700px;-webkit-text-stroke:0.4px #8b8b8b;">15m</div><div class="t" style="left:274.50px;top:171.62px;font-size:21px;line-height:21px;color:#8b8b8b;font-weight:normal;letter-spacing:-0.900px;-webkit-text-stroke:0.4px #8b8b8b;">1h</div><div class="t" style="left:323.05px;top:171.62px;font-size:21px;line-height:21px;color:#8b8b8b;font-weight:normal;letter-spacing:-0.900px;-webkit-text-stroke:0.4px #8b8b8b;">1D</div><div class="t" style="left:1377.20px;top:173.07px;font-size:20px;line-height:20px;color:#9c9c9c;font-weight:normal;letter-spacing:0.350px;-webkit-text-stroke:0.4px #9c9c9c;">TradingView</div><div class="t" style="left:112.50px;top:227.79px;font-size:26px;line-height:26px;color:#9c9c9c;font-weight:normal;letter-spacing:0.324px;">COAI/USDT · 5 · Bitget</div><div class="t" style="left:403.00px;top:228.68px;font-size:22px;line-height:22px;color:#9c9c9c;font-weight:normal;letter-spacing:0.000px;">O</div><div class="t" style="left:422.20px;top:228.68px;font-size:22px;line-height:22px;color:#5ac79e;font-weight:normal;letter-spacing:1.340px;">3.5514</div><div class="t" style="left:509.00px;top:228.68px;font-size:22px;line-height:22px;color:#9c9c9c;font-weight:normal;letter-spacing:0.000px;">H</div><div class="t" style="left:528.00px;top:228.68px;font-size:22px;line-height:22px;color:#5ac79e;font-weight:normal;letter-spacing:1.340px;">3.6100</div><div class="t" style="left:613.80px;top:228.68px;font-size:22px;line-height:22px;color:#9c9c9c;font-weight:normal;letter-spacing:0.000px;">L</div><div class="t" style="left:627.00px;top:228.68px;font-size:22px;line-height:22px;color:#5ac79e;font-weight:normal;letter-spacing:1.540px;">3.5488</div><div class="t" style="left:714.50px;top:228.68px;font-size:22px;line-height:22px;color:#9c9c9c;font-weight:normal;letter-spacing:0.000px;">C</div><div class="t" style="left:731.30px;top:228.68px;font-size:22px;line-height:22px;color:#5ac79e;font-weight:normal;letter-spacing:1.540px;">3.5674</div><div class="t" style="left:819.40px;top:228.68px;font-size:22px;line-height:22px;color:#5ac79e;font-weight:normal;letter-spacing:1.087px;">+0.0160 (+0.45%)</div><div class="t" style="left:112.90px;top:271.08px;font-size:22px;line-height:22px;color:#9c9c9c;font-weight:normal;letter-spacing:0.818px;">MA 5 close 0</div><div class="t" style="left:263.70px;top:271.08px;font-size:22px;line-height:22px;color:#8f72d8;font-weight:normal;letter-spacing:1.260px;">3.5409</div><div class="t" style="left:112.90px;top:312.48px;font-size:22px;line-height:22px;color:#9c9c9c;font-weight:normal;letter-spacing:0.867px;">MA 10 close 0</div><div class="t" style="left:278.00px;top:312.48px;font-size:22px;line-height:22px;color:#a9b2e6;font-weight:normal;letter-spacing:1.260px;">3.5877</div><div class="t" style="left:112.90px;top:353.98px;font-size:22px;line-height:22px;color:#9c9c9c;font-weight:normal;letter-spacing:0.867px;">MA 15 close 0</div><div class="t" style="left:278.00px;top:353.98px;font-size:22px;line-height:22px;color:#7fbd6d;font-weight:normal;letter-spacing:1.260px;">3.6474</div><div class="t" style="left:112.90px;top:394.78px;font-size:22px;line-height:22px;color:#9c9c9c;font-weight:normal;letter-spacing:0.867px;">MA 30 close 0</div><div class="t" style="left:278.00px;top:394.78px;font-size:22px;line-height:22px;color:#c5409a;font-weight:normal;letter-spacing:1.260px;">3.5778</div><div class="t" style="left:113.00px;top:720.08px;font-size:22px;line-height:22px;color:#9c9c9c;font-weight:normal;letter-spacing:0.320px;">Volume</div><div class="t" style="left:204.00px;top:720.08px;font-size:22px;line-height:22px;color:#5ac79e;font-weight:normal;letter-spacing:0.533px;">20.17 K</div><div class="t" style="left:1509.00px;top:209.42px;font-size:19px;line-height:19px;color:#9a9a9a;font-weight:normal;letter-spacing:2.380px;">4.0000</div><div class="t" style="left:1509.00px;top:308.42px;font-size:19px;line-height:19px;color:#9a9a9a;font-weight:normal;letter-spacing:2.380px;">3.8000</div><div class="t" style="left:1509.00px;top:405.92px;font-size:19px;line-height:19px;color:#9a9a9a;font-weight:normal;letter-spacing:2.380px;">3.6000</div><div class="t" style="left:1509.00px;top:504.42px;font-size:19px;line-height:19px;color:#9a9a9a;font-weight:normal;letter-spacing:2.380px;">3.4000</div><div class="t" style="left:1509.00px;top:603.42px;font-size:19px;line-height:19px;color:#9a9a9a;font-weight:normal;letter-spacing:2.380px;">3.2000</div><div style="position:absolute;left:1496px;top:416.5px;width:93px;height:29px;background:#5ac79e;border-radius:0 4px 4px 0"></div><div class="t" style="left:1509.50px;top:422.92px;font-size:19px;line-height:19px;color:#0d0d0d;font-weight:normal;letter-spacing:2.380px;">3.5674</div><div class="t" style="left:1509.50px;top:838.92px;font-size:19px;line-height:19px;color:#0d0d0d;font-weight:normal;letter-spacing:1.250px;">20.17 K</div><div class="t" style="left:1213.00px;top:981.53px;font-size:23px;line-height:23px;color:#e6e6e6;font-weight:normal;letter-spacing:1.246px;">18:17:14 UTC+8</div><div class="t" style="left:1436.50px;top:981.53px;font-size:23px;line-height:23px;color:#e6e6e6;font-weight:normal;letter-spacing:0.000px;">%</div><div class="t" style="left:1481.00px;top:981.53px;font-size:23px;line-height:23px;color:#e6e6e6;font-weight:normal;letter-spacing:0.650px;">log</div><div class="t" style="left:1536.00px;top:981.53px;font-size:23px;line-height:23px;color:#5aaac8;font-weight:normal;letter-spacing:1.233px;">auto</div>
<div style="position:absolute;left:1496px;top:702px;width:104px;height:207px;overflow:hidden"><div class="t" style="left:13.00px;top:24.92px;font-size:19px;line-height:19px;color:#9a9a9a;font-weight:normal;letter-spacing:0.967px;">40 K</div><div class="t" style="left:13.00px;top:80.92px;font-size:19px;line-height:19px;color:#9a9a9a;font-weight:normal;letter-spacing:0.967px;">30 K</div><div class="t" style="left:13.00px;top:193.92px;font-size:19px;line-height:19px;color:#9a9a9a;font-weight:normal;letter-spacing:0.967px;">10 K</div></div><div style="position:absolute;left:96px;top:909px;width:1400px;height:48px;overflow:hidden"><div class="t" style="left:-17.20px;top:16.07px;font-size:20px;line-height:20px;color:#a0a0a0;font-weight:bold;letter-spacing:2.200px;">12:00</div><div class="t" style="left:177.50px;top:16.07px;font-size:20px;line-height:20px;color:#a0a0a0;font-weight:bold;letter-spacing:2.200px;">13:00</div><div class="t" style="left:372.00px;top:16.07px;font-size:20px;line-height:20px;color:#a0a0a0;font-weight:bold;letter-spacing:2.200px;">14:00</div><div class="t" style="left:566.50px;top:16.07px;font-size:20px;line-height:20px;color:#a0a0a0;font-weight:bold;letter-spacing:2.200px;">15:00</div><div class="t" style="left:761.00px;top:16.07px;font-size:20px;line-height:20px;color:#a0a0a0;font-weight:bold;letter-spacing:2.200px;">16:00</div><div class="t" style="left:955.50px;top:16.07px;font-size:20px;line-height:20px;color:#a0a0a0;font-weight:bold;letter-spacing:2.200px;">17:00</div><div class="t" style="left:1150.00px;top:16.07px;font-size:20px;line-height:20px;color:#a0a0a0;font-weight:bold;letter-spacing:2.200px;">18:00</div><div class="t" style="left:1344.50px;top:16.07px;font-size:20px;line-height:20px;color:#a0a0a0;font-weight:bold;letter-spacing:2.200px;">19:00</div></div>
</body></html>
